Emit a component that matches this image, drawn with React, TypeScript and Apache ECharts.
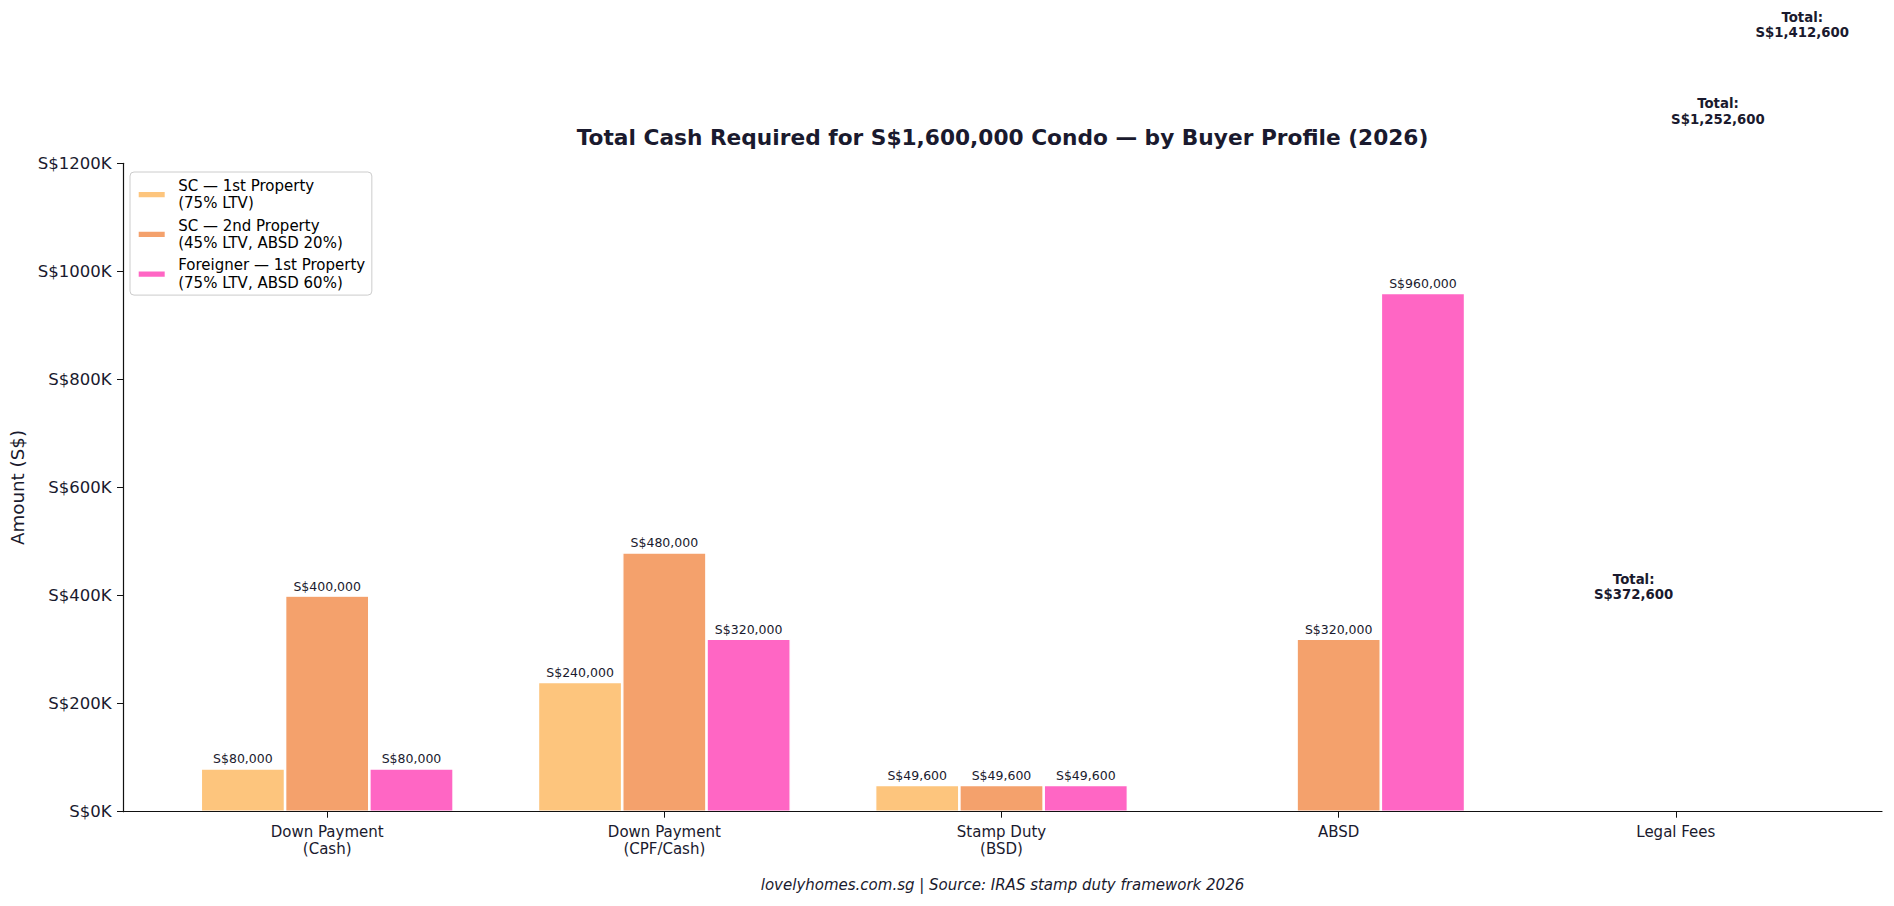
import React, { useEffect, useRef } from "react";
import * as echarts from "echarts";

// Cost components (x categories)
const categories = [
  "Down Payment\n(Cash)",
  "Down Payment\n(CPF/Cash)",
  "Stamp Duty\n(BSD)",
  "ABSD",
  "Legal Fees",
];

// Buyer profiles
const profileNames = [
  "SC — 1st Property\n(75% LTV)",
  "SC — 2nd Property\n(45% LTV, ABSD 20%)",
  "Foreigner — 1st Property\n(75% LTV, ABSD 60%)",
];

// Amounts per cost component, in S$
const sc1stValues = [80000, 240000, 49600, 0, 3000];
const sc2ndValues = [400000, 480000, 49600, 320000, 3000];
const foreignerValues = [80000, 320000, 49600, 960000, 3000];

const profileColors = ["#fdc57d", "#f4a16c", "#ff66c4"];

const yMax = 1200000;
const yStep = 200000;

const TEXT = "#1a1a2e";
const AXIS = "#111111";
const FONT = "DejaVu Sans";

const fmtMoney = (v: number) => "S$" + Math.round(v).toLocaleString("en-US");

export default function App() {
  const ref = useRef<HTMLDivElement>(null);

  useEffect(() => {
    if (!ref.current) return;
    const chart = echarts.init(ref.current, undefined, { renderer: "svg" });

    const allValues = [sc1stValues, sc2ndValues, foreignerValues];
    const totals = allValues.map((arr) => arr.reduce((a, b) => a + b, 0));
    const lastIdx = categories.length - 1;

    const gridTop = 163.3;
    const gridBottom = 94.3;

    const barSeries = allValues.map((vals, i) => ({
      name: profileNames[i],
      type: "bar",
      xAxisIndex: 1,
      yAxisIndex: 1,
      data: vals,
      barWidth: "25%",
      barGap: "0%",
      itemStyle: {
        color: profileColors[i],
        borderColor: "#ffffff",
        borderWidth: 1.3,
      },
      label: {
        show: true,
        position: "top",
        distance: 3,
        color: TEXT,
        fontFamily: FONT,
        fontSize: 12.5,
        formatter: (p: any) => (p.value >= 10000 ? fmtMoney(p.value) : ""),
      },
    }));

    const totalSeries = {
      type: "custom",
      xAxisIndex: 1,
      yAxisIndex: 1,
      silent: true,
      data: totals.map((t, i) => [lastIdx, t, i]),
      renderItem: (_params: any, api: any) => {
        const pt = api.coord([api.value(0), api.value(1)]);
        const band = api.size([1, 0])[0];
        const idx = api.value(2);
        return {
          type: "text",
          x: pt[0] + (idx - 0.5) * 0.25 * band,
          y: pt[1] - 8,
          style: {
            text: "Total:\n" + fmtMoney(api.value(1)),
            align: "center",
            verticalAlign: "bottom",
            fill: TEXT,
            font: `bold 13.3px "${FONT}"`,
            lineHeight: 15.5,
          },
        };
      },
    };

    chart.setOption({
      animation: false,
      backgroundColor: "#ffffff",
      textStyle: { fontFamily: FONT, color: TEXT },
      grid: [
        { left: 123, right: 12, top: gridTop, bottom: gridBottom },
        { left: 158.6, right: 49.6, top: gridTop, bottom: gridBottom },
      ],
      xAxis: [
        {
          type: "value",
          gridIndex: 0,
          min: 0,
          max: 1,
          z: 5,
          axisLine: { show: true, lineStyle: { color: AXIS, width: 1.2 } },
          axisTick: { show: false },
          axisLabel: { show: false },
          splitLine: { show: false },
        },
        {
          type: "category",
          gridIndex: 1,
          data: categories,
          axisLine: { show: false },
          axisTick: {
            show: true,
            alignWithLabel: true,
            length: 6,
            lineStyle: { color: AXIS, width: 1 },
          },
          axisLabel: {
            color: TEXT,
            fontFamily: FONT,
            fontSize: 15,
            lineHeight: 17.5,
            margin: 11.5,
            interval: 0,
          },
          splitLine: { show: false },
        },
      ],
      yAxis: [
        {
          type: "value",
          gridIndex: 0,
          min: 0,
          max: yMax,
          interval: yStep,
          z: 5,
          name: "Amount (S$)",
          nameLocation: "middle",
          nameGap: 85,
          nameTextStyle: { color: TEXT, fontFamily: FONT, fontSize: 18.3 },
          axisLine: { show: true, lineStyle: { color: AXIS, width: 1.2 } },
          axisTick: { show: true, length: 6, lineStyle: { color: AXIS, width: 1 } },
          axisLabel: {
            color: TEXT,
            fontFamily: FONT,
            fontSize: 16.5,
            margin: 11.5,
            formatter: (v: number) => "S$" + v / 1000 + "K",
          },
          splitLine: { show: false },
        },
        {
          type: "value",
          gridIndex: 1,
          min: 0,
          max: yMax,
          interval: yStep,
          show: false,
          splitLine: { show: false },
        },
      ],
      legend: {
        data: profileNames,
        left: 130,
        top: 172,
        orient: "vertical",
        icon: "rect",
        itemWidth: 28,
        itemHeight: 7.3,
        itemGap: 4.7,
        padding: [5.2, 6.7, 3.5, 6.7],
        backgroundColor: "rgba(255,255,255,0.8)",
        borderColor: "#cccccc",
        borderWidth: 1,
        borderRadius: 4,
        formatter: (name: string) =>
          name
            .split("\n")
            .map((line) => "{gap|}" + line)
            .join("\n"),
        textStyle: {
          color: "#000000",
          fontFamily: FONT,
          fontSize: 15,
          lineHeight: 17.5,
          rich: {
            gap: { width: 7.5, lineHeight: 17.5 },
          },
        },
      },
      graphic: [
        {
          type: "text",
          x: 1002.5,
          y: 137.7,
          style: {
            text: "Total Cash Required for S$1,600,000 Condo — by Buyer Profile (2026)",
            align: "center",
            verticalAlign: "middle",
            fill: TEXT,
            font: `bold 21.7px "${FONT}"`,
          },
        },
        {
          type: "text",
          x: 1002.5,
          y: 885.4,
          style: {
            text: "lovelyhomes.com.sg | Source: IRAS stamp duty framework 2026",
            align: "center",
            verticalAlign: "middle",
            fill: TEXT,
            font: `italic 15px "${FONT}"`,
          },
        },
      ],
      series: [...barSeries, totalSeries],
    });

    return () => chart.dispose();
  }, []);

  return (
    <div
      ref={ref}
      style={{ position: "fixed", left: 0, top: 0, width: 1894, height: 906 }}
    />
  );
}
